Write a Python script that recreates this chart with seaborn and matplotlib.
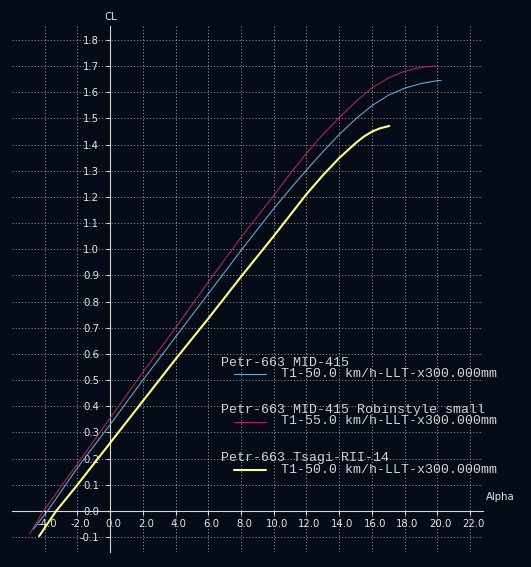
import matplotlib
matplotlib.use("Agg")
import matplotlib.pyplot as plt
from matplotlib.lines import Line2D
from matplotlib.transforms import ScaledTranslation
import numpy as np
import pandas as pd
import seaborn as sns

# ── Data ──────────────────────────────────────────────────────────────────────
alpha_mid415 = [-4.7, -3.83, -2.0, 0.0, 2.0, 4.0, 6.0, 8.0, 10.0, 11.0, 12.0,
                13.0, 14.0, 15.0, 16.0, 17.0, 18.0, 19.0, 20.0, 20.25]
cl_mid415 = [-0.07, 0.0, 0.165, 0.33, 0.50, 0.665, 0.83, 0.995, 1.155, 1.23,
             1.302, 1.372, 1.438, 1.497, 1.548, 1.588, 1.615, 1.633, 1.644, 1.645]

alpha_robin = [-4.93, -4.08, -2.0, 0.0, 2.0, 4.0, 6.0, 8.0, 10.0, 11.0, 12.0,
               13.0, 14.0, 15.0, 16.0, 17.0, 18.0, 19.0, 19.85]
cl_robin = [-0.088, 0.0, 0.18, 0.355, 0.53, 0.70, 0.875, 1.045, 1.205, 1.288,
            1.366, 1.438, 1.503, 1.563, 1.616, 1.654, 1.680, 1.695, 1.70]

alpha_tsagi = [-4.34, -3.3, -2.0, 0.0, 2.0, 4.0, 6.0, 8.0, 10.0, 12.0, 13.0,
               14.0, 15.0, 15.5, 16.0, 16.5, 17.07]
cl_tsagi = [-0.096, 0.0, 0.10, 0.26, 0.42, 0.58, 0.735, 0.895, 1.05, 1.21,
            1.282, 1.348, 1.405, 1.43, 1.449, 1.462, 1.471]

plane_names = ["Petr-663 MID-415", "Petr-663 MID-415 Robinstyle small",
               "Petr-663 Tsagi-RII-14"]
polar_names = ["T1-50.0 km/h-LLT-x300.000mm", "T1-55.0 km/h-LLT-x300.000mm",
               "T1-50.0 km/h-LLT-x300.000mm"]
colors = ["#62b2d6", "#b8245e", "#ffff80"]
widths = [0.75, 0.75, 1.5]

x_ticks = np.arange(-4, 23, 2)
y_ticks = np.round(np.arange(-0.1, 1.81, 0.1), 1)

# ── Style ─────────────────────────────────────────────────────────────────────
BG = "#040a16"
sns.set_theme(style="dark", rc={"axes.facecolor": BG, "figure.facecolor": BG})
plt.rcParams["font.family"] = ["DejaVu Sans"]

W, H = 531, 567
fig = plt.figure(figsize=(W / 100, H / 100), dpi=100)
ax = fig.add_axes([12 / W, 1 - 551.7 / H, 470.7 / W, 526 / H])
ax.set_facecolor(BG)

series = [(alpha_mid415, cl_mid415), (alpha_robin, cl_robin), (alpha_tsagi, cl_tsagi)]
for (a, c), col, lw in zip(series, colors, widths):
    df = pd.DataFrame({"Alpha": a, "CL": c})
    sns.lineplot(data=df, x="Alpha", y="CL", color=col, linewidth=lw,
                 sort=False, estimator=None, ax=ax, zorder=3)

ax.set_xlim(-6.0, 22.78)
ax.set_ylim(-0.1555, 1.854)
ax.set_xticks(x_ticks)
ax.set_yticks(y_ticks)
ax.set_xticklabels([f"{v:.1f}" for v in x_ticks])
ax.set_yticklabels([f"{v:.1f}" for v in y_ticks])
ax.set_xlabel("")
ax.set_ylabel("")

ax.grid(True, color="#9c9c9c", linestyle=(0, (1, 2.2)), linewidth=0.72, zorder=0)

for side in ["top", "right"]:
    ax.spines[side].set_visible(False)
for side in ["left", "bottom"]:
    ax.spines[side].set_position(("data", 0))
    ax.spines[side].set_color("#d8d8d8")
    ax.spines[side].set_linewidth(0.8)
    ax.spines[side].set_zorder(2)

ax.tick_params(axis="both", colors="#d8d8d8", labelcolor="#e6e6e6",
               labelsize=7.3, length=3, width=0.8, direction="out")
ax.tick_params(axis="y", pad=5, left=True)
ax.tick_params(axis="x", pad=2.5, bottom=True)
for lab in ax.get_xticklabels():
    lab.set_transform(lab.get_transform() + ScaledTranslation(3 / 100, 0, fig.dpi_scale_trans))

fig.text(110.5 / W, 1 - 16.5 / H, "CL", color="#e6e6e6", fontsize=7.3,
         ha="center", va="center")
fig.text(500 / W, 1 - 497.5 / H, "Alpha", color="#e6e6e6", fontsize=7.3,
         ha="center", va="center")

# ── Legend (hand-built, XFLR5 style) ─────────────────────────────────────────
title_y = [362.7, 410.0, 458.3]
for name, polar, col, lw, ty in zip(plane_names, polar_names, colors, widths, title_y):
    fig.text(221 / W, 1 - ty / H, name, color="#d4d4d4", fontsize=9.5,
             family="Liberation Mono", ha="left", va="center")
    ly = ty + 11.5
    fig.add_artist(Line2D([234 / W, 266 / W], [1 - ly / H, 1 - ly / H],
                          color=col, linewidth=lw))
    fig.text(281 / W, 1 - ly / H, polar, color="#d4d4d4", fontsize=9.5,
             family="Liberation Mono", ha="left", va="center")

fig.savefig("out.png", dpi=100, facecolor=BG)
